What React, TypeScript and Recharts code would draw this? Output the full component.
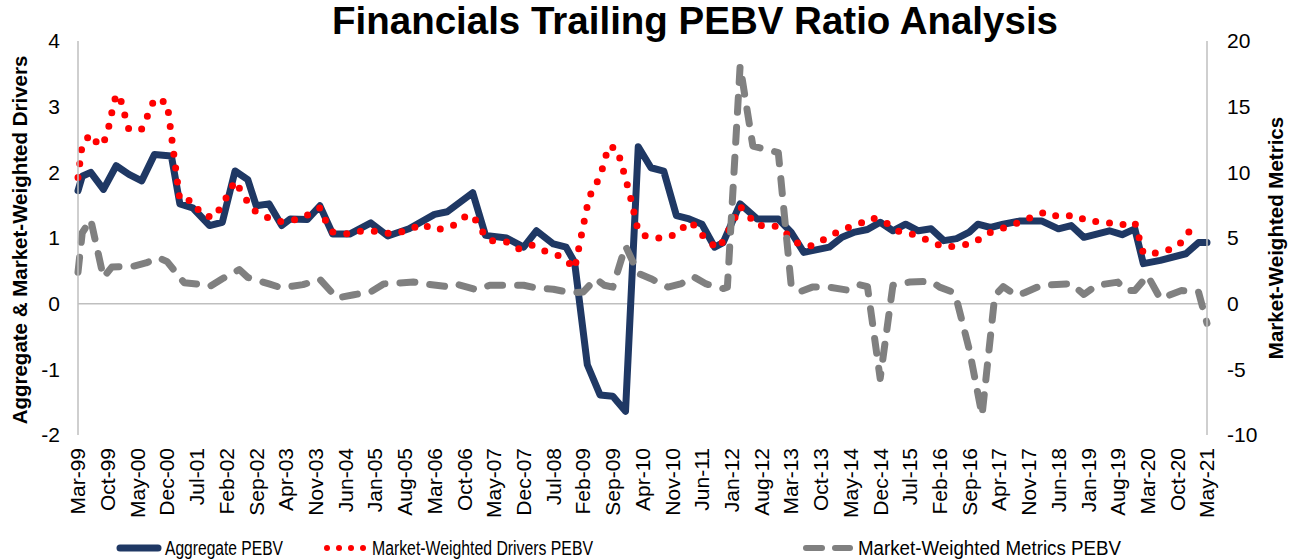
import React from 'react';
import { LineChart, Line, XAxis, YAxis, ReferenceLine, Legend } from 'recharts';

const FONT = '"Liberation Sans", Arial, Helvetica, sans-serif';
const NAVY = '#1F3864';
const RED = '#FF0000';
const GRAY = '#808080';
const AXIS = '#BFBFBF';

// Monthly categories from Mar-99 to May-21
const MONTHS = ['Jan', 'Feb', 'Mar', 'Apr', 'May', 'Jun', 'Jul', 'Aug', 'Sep', 'Oct', 'Nov', 'Dec'];
const FIRST_YEAR = 1999;
const FIRST_MONTH = 2;
const N_MONTHS = 267;
const categories: string[] = Array.from({ length: N_MONTHS }, (_, i) => {
  const t = FIRST_MONTH + i;
  const yy = (FIRST_YEAR + Math.floor(t / 12)) % 100;
  return `${MONTHS[t % 12]}-${String(yy).padStart(2, '0')}`;
});

const leftTicks = [-2, -1, 0, 1, 2, 3, 4];
const rightTicks = [-10, -5, 0, 5, 10, 15, 20];

// [month offset from Mar-99, value]
const aggregatePebv: [number, number][] = [
  [0, 1.72], [1, 1.94], [3, 2.0], [6, 1.74], [9, 2.1], [12, 1.97], [15, 1.87], [18, 2.27], [22, 2.25],
  [24, 1.52], [27, 1.46], [31, 1.19], [34, 1.24], [37, 2.02], [40, 1.89], [42, 1.49], [45, 1.52],
  [48, 1.19], [50, 1.29], [54, 1.28], [57, 1.49], [60, 1.06], [64, 1.06], [69, 1.23], [73, 1.03],
  [78, 1.14], [84, 1.36], [87, 1.4], [93, 1.69], [96, 1.04], [101, 1.0], [105, 0.86], [108, 1.11],
  [112, 0.91], [115, 0.86], [117, 0.63], [120, -0.93], [123, -1.39], [126, -1.41], [129, -1.64],
  [132, 2.39], [135, 2.07], [138, 2.02], [141, 1.34], [144, 1.29], [147, 1.21], [150, 0.86],
  [152, 0.93], [156, 1.52], [160, 1.29], [165, 1.29], [168, 1.09], [171, 0.78], [177, 0.86],
  [180, 1.01], [183, 1.09], [186, 1.13], [189, 1.24], [192, 1.11], [195, 1.21], [198, 1.11],
  [201, 1.14], [204, 0.96], [207, 0.99], [210, 1.09], [212, 1.21], [215, 1.16], [218, 1.21],
  [222, 1.26], [227, 1.26], [231, 1.14], [234, 1.19], [237, 1.01], [243, 1.11], [246, 1.05],
  [249, 1.14], [251, 0.61], [255, 0.66], [261, 0.76], [264, 0.93], [266, 0.93],
];

const driversPebv: [number, number][] = [
  [0, 1.92], [1, 2.43], [3, 2.58], [5, 2.4], [6, 2.45], [7, 2.62], [8, 2.92], [9, 3.19], [10, 3.12],
  [11, 2.88], [12, 2.65], [15, 2.66], [17, 2.95], [18, 3.12], [21, 3.06], [24, 1.57], [27, 1.57],
  [29, 1.36], [32, 1.31], [34, 1.5], [37, 1.87], [39, 1.65], [41, 1.44], [44, 1.33], [47, 1.25],
  [50, 1.26], [53, 1.31], [57, 1.46], [58, 1.3], [60, 1.09], [64, 1.06], [67, 1.11], [71, 1.1],
  [74, 1.06], [78, 1.12], [81, 1.22], [84, 1.12], [88, 1.17], [91, 1.32], [93, 1.35], [95, 1.12],
  [97, 0.96], [101, 0.94], [104, 0.83], [107, 0.89], [110, 0.8], [113, 0.74], [116, 0.6], [117, 0.53],
  [120, 1.49], [121, 1.71], [123, 1.93], [124, 2.16], [125, 2.4], [127, 2.36], [128, 2.14],
  [130, 1.67], [132, 1.1], [134, 1.02], [138, 0.99], [141, 1.06], [144, 1.25], [146, 1.15],
  [148, 0.96], [151, 0.84], [154, 1.2], [156, 1.48], [158, 1.34], [160, 1.19], [164, 1.19],
  [167, 1.06], [170, 0.9], [173, 0.88], [177, 1.02], [180, 1.13], [184, 1.21], [187, 1.31],
  [190, 1.25], [193, 1.11], [197, 1.05], [200, 0.97], [204, 0.86], [207, 0.88], [211, 0.92],
  [214, 1.06], [217, 1.13], [221, 1.22], [224, 1.3], [228, 1.4], [231, 1.32], [235, 1.35],
  [238, 1.25], [242, 1.25], [245, 1.19], [249, 1.24], [251, 0.77], [255, 0.77], [259, 0.87],
  [261, 1.01], [263, 1.24],
];

const metricsPebv: [number, number][] = [
  [0, 2.4], [1, 5.4], [3, 6.4], [6, 2.0], [8, 2.8], [13, 2.85], [16, 3.1], [19, 3.5], [21, 3.2],
  [25, 1.6], [28, 1.5], [31, 1.3], [34, 1.9], [38, 2.6], [40, 2.0], [45, 1.5], [48, 1.2], [53, 1.45],
  [57, 1.85], [61, 0.43], [65, 0.68], [69, 0.9], [72, 1.5], [79, 1.65], [82, 1.5], [87, 1.3],
  [89, 1.5], [94, 1.05], [97, 1.4], [105, 1.4], [108, 1.2], [112, 1.1], [116, 0.83], [119, 0.88],
  [122, 1.9], [124, 1.4], [126, 1.26], [129, 4.4], [132, 2.3], [135, 1.9], [139, 1.26], [142, 1.5],
  [145, 2.05], [148, 1.5], [152, 1.15], [153, 1.25], [156, 18.1], [159, 12.0], [165, 11.5],
  [168, 1.5], [170, 0.9], [173, 1.26], [177, 1.26], [181, 1.05], [184, 1.45], [186, 1.3],
  [189, -5.7], [192, 1.4], [196, 1.65], [201, 1.7], [203, 1.26], [206, 0.9], [207, 0.3],
  [210, -3.5], [213, -8.5], [216, 0.6], [218, 1.3], [221, 0.63], [223, 0.83], [227, 1.4],
  [234, 1.52], [237, 0.7], [240, 1.4], [245, 1.64], [247, 1.0], [249, 1.0], [252, 2.14],
  [255, 0.38], [257, 0.63], [260, 1.0], [264, 0.89], [266, -1.5],
];

type Row = { label: string; agg: number | null; drv: number | null; met: number | null };
const rows: Row[] = categories.map((label) => ({ label, agg: null, drv: null, met: null }));
aggregatePebv.forEach(([i, v]) => { rows[i].agg = v; });
driversPebv.forEach(([i, v]) => { rows[i].drv = v; });
metricsPebv.forEach(([i, v]) => { rows[i].met = v; });

const XTick = (props: any) => {
  const { x, y, payload } = props;
  return (
    <text
      x={0}
      y={0}
      transform={`translate(${x},${y + 13}) rotate(-90)`}
      textAnchor="end"
      dy="0.35em"
      fontSize={21}
      fill="#000"
      fontFamily={FONT}
    >
      {payload.value}
    </text>
  );
};

const LeftTitle = () => (
  <text
    x={0}
    y={0}
    transform="translate(27,240) rotate(-90)"
    textAnchor="middle"
    fontSize={20.5}
    fontWeight="bold"
    fill="#000"
    fontFamily={FONT}
  >
    Aggregate &amp; Market-Weighted Drivers
  </text>
);

const RightTitle = () => (
  <text
    x={0}
    y={0}
    transform="translate(1283,238) rotate(-90)"
    textAnchor="middle"
    fontSize={20.5}
    fontWeight="bold"
    fill="#000"
    fontFamily={FONT}
  >
    Market-Weighted Metrics
  </text>
);

const LegendContent = () => (
  <svg width={1296} height={30} style={{ display: 'block' }}>
    <line x1={120} x2={158} y1={18} y2={18} stroke={NAVY} strokeWidth={7} strokeLinecap="round" />
    <text x={165} y={25} fontSize={19.5} fontFamily={FONT} fill="#000" textLength={118} lengthAdjust="spacingAndGlyphs">
      Aggregate PEBV
    </text>
    {[327, 339, 351, 363].map((cx) => (
      <circle key={cx} cx={cx} cy={18} r={3} fill={RED} />
    ))}
    <text x={372} y={25} fontSize={19.5} fontFamily={FONT} fill="#000" textLength={221} lengthAdjust="spacingAndGlyphs">
      Market-Weighted Drivers PEBV
    </text>
    <line x1={806} x2={822} y1={18} y2={18} stroke={GRAY} strokeWidth={6} strokeLinecap="round" />
    <line x1={835} x2={850} y1={18} y2={18} stroke={GRAY} strokeWidth={6} strokeLinecap="round" />
    <text x={858} y={25} fontSize={19.5} fontFamily={FONT} fill="#000" textLength={263} lengthAdjust="spacingAndGlyphs">
      Market-Weighted Metrics PEBV
    </text>
  </svg>
);

export default function App() {
  return (
    <div style={{ position: 'absolute', left: 0, top: 0, width: 1296, height: 560, background: '#fff', fontFamily: FONT }}>
      <div
        style={{
          position: 'absolute',
          left: 295,
          top: 2,
          width: 800,
          textAlign: 'center',
          fontSize: 38.5,
          lineHeight: '38px',
          fontWeight: 'bold',
          color: '#000',
          fontFamily: FONT,
          zIndex: 2,
        }}
      >
        Financials Trailing PEBV Ratio Analysis
      </div>
      <LineChart
        width={1296}
        height={560}
        data={rows}
        margin={{ top: 41, right: 9, bottom: 0, left: 8 }}
        style={{ fontFamily: FONT }}
      >
        <XAxis
          dataKey="label"
          interval={6}
          axisLine={false}
          tickLine={false}
          tickSize={0}
          tickMargin={0}
          height={95}
          tick={<XTick />}
        />
        <YAxis
          yAxisId="left"
          domain={[-2, 4]}
          ticks={leftTicks}
          width={70}
          axisLine={{ stroke: AXIS, strokeWidth: 1.5 }}
          tickLine={false}
          tickSize={0}
          tickMargin={18}
          tick={{ fontSize: 21, fill: '#000', fontFamily: FONT }}
          label={<LeftTitle />}
        />
        <YAxis
          yAxisId="right"
          orientation="right"
          domain={[-10, 20]}
          ticks={rightTicks}
          width={80}
          axisLine={{ stroke: AXIS, strokeWidth: 1.5 }}
          tickLine={false}
          tickSize={0}
          tickMargin={20}
          tick={{ fontSize: 21, fill: '#000', fontFamily: FONT, textAnchor: 'start' }}
          label={<RightTitle />}
        />
        <ReferenceLine yAxisId="left" y={0} stroke={AXIS} strokeWidth={1.5} />
        <Legend
          verticalAlign="bottom"
          height={30}
          wrapperStyle={{ left: 0, width: 1296, bottom: 0 }}
          content={<LegendContent />}
        />
        <Line
          yAxisId="left"
          type="linear"
          dataKey="agg"
          name="Aggregate PEBV"
          stroke={NAVY}
          strokeWidth={7}
          strokeLinejoin="round"
          strokeLinecap="round"
          dot={false}
          activeDot={false}
          connectNulls
          isAnimationActive={false}
        />
        <Line
          yAxisId="left"
          type="linear"
          dataKey="drv"
          name="Market-Weighted Drivers PEBV"
          stroke={RED}
          strokeWidth={7}
          strokeDasharray="0 14"
          strokeLinecap="round"
          dot={false}
          activeDot={false}
          connectNulls
          isAnimationActive={false}
        />
        <Line
          yAxisId="right"
          type="linear"
          dataKey="met"
          name="Market-Weighted Metrics PEBV"
          stroke={GRAY}
          strokeWidth={7}
          strokeDasharray="15 15"
          strokeLinecap="round"
          strokeLinejoin="round"
          dot={false}
          activeDot={false}
          connectNulls
          isAnimationActive={false}
        />
      </LineChart>
    </div>
  );
}
